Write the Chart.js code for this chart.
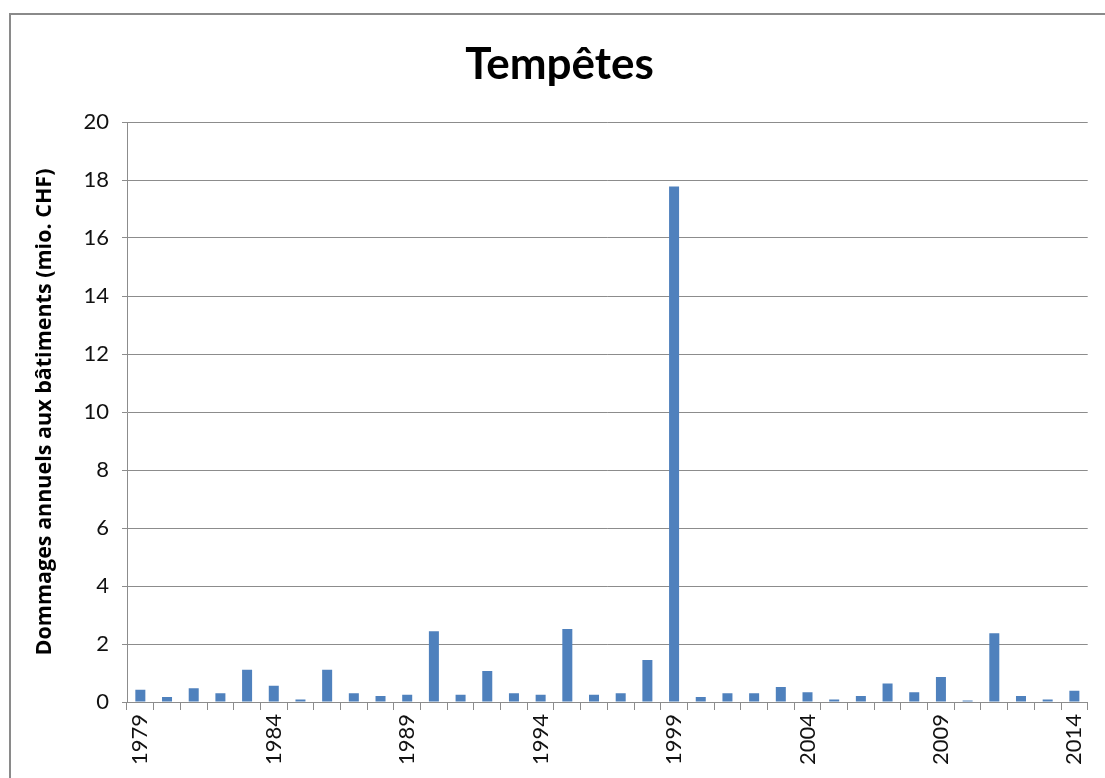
<!DOCTYPE html>
<html>
<head>
<meta charset="utf-8">
<script src="https://cdn.jsdelivr.net/npm/chart.js@4"></script>
<style>
    body { margin: 0; background: #fff; }
    #wrap { position: relative; width: 1105px; height: 778px; overflow: hidden; }
    #frame {
        position: absolute; left: 9px; top: 13px; width: 1200px; height: 900px;
        border: 2px solid #8a8a8a; box-sizing: border-box;
    }
    canvas { position: absolute; left: 0; top: 0; }
</style>
</head>
<body>
<div id="wrap">
    <div id="frame"></div>
    <canvas id="stormChart" width="1105" height="778"></canvas>
</div>
<script>
// DATA
const years = [];
for (let y = 1979; y <= 2014; y++) years.push(String(y));

const damages = [
    0.42, 0.17, 0.47, 0.30, 1.11, 0.56, 0.09, 1.11, 0.30, 0.21,
    0.25, 2.44, 0.25, 1.07, 0.30, 0.25, 2.52, 0.25, 0.30, 1.45,
    17.78, 0.17, 0.30, 0.30, 0.52, 0.34, 0.09, 0.21, 0.64, 0.34,
    0.86, 0.05, 2.37, 0.21, 0.09, 0.39
];

const yTicks = [0, 2, 4, 6, 8, 10, 12, 14, 16, 18, 20];

const gridGray = "#8c8c8c";

new Chart(document.getElementById("stormChart"), {
    type: "bar",
    data: {
        labels: years,
        datasets: [{
            data: damages,
            backgroundColor: "#4f81bd",
            barPercentage: 0.375,
            categoryPercentage: 1
        }]
    },
    options: {
        responsive: false,
        animation: false,
        // left padding also shifts the title centre to match the original
        layout: { padding: { left: 31, right: 17, top: 0, bottom: 0 } },
        plugins: {
            legend: { display: false },
            tooltip: { enabled: false },
            title: {
                display: true,
                text: "Tempêtes",
                color: "#000",
                font: { family: "Lato", size: 44, weight: "bold", lineHeight: 1.2 },
                padding: { top: 38, bottom: 31.2 }
            }
        },
        scales: {
            x: {
                offset: true,
                grid: {
                    offset: true,
                    drawOnChartArea: false,
                    drawTicks: true,
                    tickLength: 8,
                    color: gridGray
                },
                border: { color: gridGray },
                ticks: {
                    autoSkip: false,
                    minRotation: 90,
                    maxRotation: 90,
                    padding: 4,
                    color: "#111",
                    font: { family: "Lato", size: 22 },
                    callback: (val, i) => (i % 5 === 0 ? years[i] : "")
                },
                afterFit: s => { s.height = 76; }
            },
            y: {
                min: 0,
                max: 20,
                afterBuildTicks: s => { s.ticks = yTicks.map(v => ({ value: v })); },
                grid: { color: gridGray, tickLength: 5 },
                border: { color: gridGray },
                ticks: {
                    padding: 13,
                    color: "#111",
                    font: { family: "Lato", size: 22 }
                },
                title: {
                    display: true,
                    text: "Dommages annuels aux bâtiments (mio. CHF)",
                    color: "#000",
                    font: { family: "Open Sans", size: 21.5, weight: "bold", lineHeight: 1.2 },
                    padding: { top: 1, bottom: 0 }
                },
                afterFit: s => { s.width = 96; }
            }
        }
    }
});
</script>
</body>
</html>
